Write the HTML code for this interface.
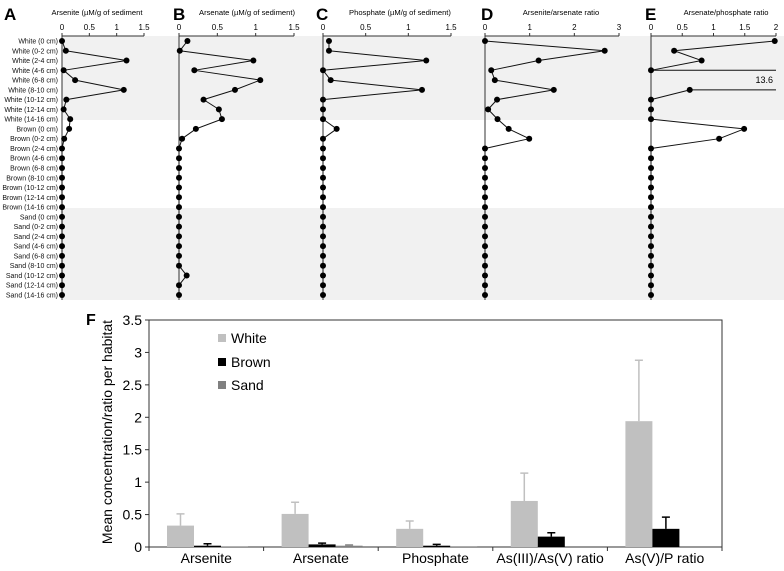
<!DOCTYPE html>
<html><head><meta charset="utf-8"><style>
html,body{margin:0;padding:0;background:#fff}
svg{display:block;font-family:"Liberation Sans",Arial,sans-serif}
</style></head><body>
<svg id="fig" width="784" height="571" viewBox="0 0 784 571" xmlns="http://www.w3.org/2000/svg">
<rect x="62" y="36" width="722" height="84" fill="#f1f1f1"/>
<rect x="62" y="208" width="722" height="92" fill="#f1f1f1"/>
<g id="profiles"></g>
<g id="bars"></g>
</svg>
<script>
const depthLabels = ["White (0 cm)","White (0-2 cm)","White (2-4 cm)","White (4-6 cm)","White (6-8 cm)","White (8-10 cm)","White (10-12 cm)","White (12-14 cm)","White (14-16 cm)","Brown (0 cm)","Brown (0-2 cm)","Brown (2-4 cm)","Brown (4-6 cm)","Brown (6-8 cm)","Brown (8-10 cm)","Brown (10-12 cm)","Brown (12-14 cm)","Brown (14-16 cm)","Sand (0 cm)","Sand (0-2 cm)","Sand (2-4 cm)","Sand (4-6 cm)","Sand (6-8 cm)","Sand (8-10 cm)","Sand (10-12 cm)","Sand (12-14 cm)","Sand (14-16 cm)"];
const arseniteVals = [0,0.07,1.18,0.03,0.24,1.13,0.08,0.03,0.15,0.13,0.04,0,0,0,0,0,0,0,0,0,0,0,0,0,0,0,0];
const arsenateVals = [0.11,0.01,0.97,0.2,1.06,0.73,0.32,0.52,0.56,0.22,0.04,0,0,0,0,0,0,0,0,0,0,0,0,0,0.1,0,0];
const phosphateVals = [0.07,0.07,1.21,0,0.09,1.16,0,0,0,0.16,0,0,0,0,0,0,0,0,0,0,0,0,0,0,0,0,0];
const ratioIIIVVals = [0,2.68,1.2,0.14,0.22,1.54,0.27,0.07,0.28,0.53,0.99,0,0,0,0,0,0,0,0,0,0,0,0,0,0,0,0];
const ratioVPVals = [1.98,0.37,0.81,0,13.6,0.62,0,0,0,1.49,1.09,0,0,0,0,0,0,0,0,0,0,0,0,0,0,0,0];
const ticksA = ["0","0.5","1","1.5"], ticksD = ["0","1","2","3"], ticksE = ["0","0.5","1","1.5","2"];

const barCategories = ["Arsenite","Arsenate","Phosphate","As(III)/As(V) ratio","As(V)/P ratio"];
const whiteMeans = [0.33,0.51,0.28,0.71,1.94];
const whiteErr = [0.18,0.18,0.12,0.43,0.94];
const brownMeans = [0.02,0.04,0.02,0.16,0.28];
const brownErr = [0.03,0.02,0.02,0.06,0.18];
const sandMeans = [0.005,0.02,0.01,0,0];
const sandErr = [0,0.01,0,0,0];
const barYTicks = ["0","0.5","1","1.5","2","2.5","3","3.5"];

const NS="http://www.w3.org/2000/svg";
function mk(parent,tag,attrs,text){const e=document.createElementNS(NS,tag);for(const k in attrs)e.setAttribute(k,attrs[k]);if(text!==undefined)e.textContent=text;parent.appendChild(e);return e;}
const P=document.getElementById('profiles');
const rowY=i=>41+i*(254/26);

depthLabels.forEach((l,i)=>{
  const t=mk(P,'text',{x:58,y:rowY(i)+2.5,'font-size':'7','text-anchor':'end',fill:'#111'},l);
  
  
});

const panels=[
 {letter:"A",title:"Arsenite  (µM/g of sediment",x0:62,x1:144,max:1.5,ticks:ticksA,vals:arseniteVals,lx:4,tx:97},
 {letter:"B",title:"Arsenate (µM/g of sediment)",x0:179,x1:294,max:1.5,ticks:ticksA,vals:arsenateVals,lx:173,tx:247},
 {letter:"C",title:"Phosphate (µM/g of sediment)",x0:323,x1:451,max:1.5,ticks:ticksA,vals:phosphateVals,lx:316,tx:400},
 {letter:"D",title:"Arsenite/arsenate ratio",x0:485,x1:619,max:3,ticks:ticksD,vals:ratioIIIVVals,lx:481,tx:561},
 {letter:"E",title:"Arsenate/phosphate ratio",x0:651,x1:776,max:2,ticks:ticksE,vals:ratioVPVals,lx:645,tx:726}
];
panels.forEach(p=>{
  const g=mk(P,'g',{});
  
  
  const L=mk(g,'text',{x:p.lx,y:20,'font-size':'17','font-weight':'bold'},p.letter);
  
  
  const T=mk(g,'text',{x:p.tx,y:15,'font-size':'7.6','text-anchor':'middle'},p.title);
  
  
  const sx=v=>p.x0+(v/p.max)*(p.x1-p.x0);
  const ax=mk(g,'line',{x1:p.x0,y1:36,x2:p.x1,y2:36,stroke:'#333','stroke-width':1});
  
  
  const ay=mk(g,'line',{x1:p.x0,y1:36,x2:p.x0,y2:300,stroke:'#333','stroke-width':1});
  
  
  p.ticks.forEach(t=>{
    const v=parseFloat(t), x=sx(v);
    mk(g,'line',{x1:x,y1:33,x2:x,y2:36,stroke:'#333'});
    const tl=mk(g,'text',{x:x,y:30,'font-size':'8','text-anchor':'middle'},t);
    
    
  });
  const pts=p.vals.map((v,i)=>({v,x:sx(Math.min(v,p.max)),y:rowY(i),over:v>p.max}));
  for(let i=0;i<pts.length-1;i++){
    const a=pts[i],b=pts[i+1];
    let seg;
    if(a.over||b.over){
      const n=a.over?b:a;
      seg=mk(g,'line',{x1:n.x,y1:n.y,x2:sx(p.max),y2:n.y,stroke:'#111','stroke-width':1});
    } else {
      seg=mk(g,'line',{x1:a.x,y1:a.y,x2:b.x,y2:b.y,stroke:'#111','stroke-width':1});
    }
    
    
  }
  pts.forEach(pt=>{
    if(pt.over){
      const t=mk(g,'text',{x:sx(p.max)-3,y:pt.y+3,'font-size':'9','text-anchor':'end'},String(pt.v));
      
      
      return;
    }
    const c=mk(g,'circle',{cx:pt.x,cy:pt.y,r:3,fill:'#000'});
    
    
  });
});

const B=document.getElementById('bars');
const bx0=149,bx1=722,by0=547,byTop=320,bmax=3.5;
const by=v=>by0-(v/bmax)*(by0-byTop);
const gw=(bx1-bx0)/barCategories.length;
const fl=mk(B,'text',{x:86,y:325,'font-size':'16','font-weight':'bold'},'F');


const frame=mk(B,'rect',{x:bx0,y:byTop,width:bx1-bx0,height:by0-byTop,fill:'none',stroke:'#333','stroke-width':1});


barYTicks.forEach(t=>{
  const y=by(parseFloat(t));
  mk(B,'line',{x1:bx0-4,y1:y,x2:bx0,y2:y,stroke:'#333'});
  const tl=mk(B,'text',{x:bx0-7,y:y+5,'font-size':'14','text-anchor':'end'},t);
  
  
});
const yt=mk(B,'text',{x:0,y:0,'font-size':'14','text-anchor':'middle',transform:'translate(112,432) rotate(-90)'},'Mean concentration/ratio per habitat');


const series=[{m:whiteMeans,e:whiteErr,c:'#c0c0c0',ec:'#c0c0c0',n:'white'},{m:brownMeans,e:brownErr,c:'#000',ec:'#000',n:'brown'},{m:sandMeans,e:sandErr,c:'#808080',ec:'#808080',n:'sand'}];
barCategories.forEach((cat,ci)=>{
  const gx=bx0+ci*gw;
  if(ci>0) mk(B,'line',{x1:gx,y1:by0,x2:gx,y2:by0+4,stroke:'#333'});
  series.forEach((s,si)=>{
    const x=gx+18+si*27, v=s.m[ci], e=s.e[ci];
    if(e>0){
      const cx=x+13.5;
      const el=mk(B,'path',{d:`M${cx},${by(v)} V${by(v+e)} M${cx-4},${by(v+e)} H${cx+4}`,stroke:s.ec,'stroke-width':1.5,fill:'none'});
      
      
    }
    const r=mk(B,'rect',{x:x,y:by(v),width:27,height:Math.max(0,by0-by(v)),fill:s.c});
    
    
  });
  const cl=mk(B,'text',{x:gx+gw/2,y:563,'font-size':'14','text-anchor':'middle'},cat);
  
  
});
mk(B,'line',{x1:bx0,y1:by0,x2:bx0,y2:by0+4,stroke:'#333'});
mk(B,'line',{x1:bx1,y1:by0,x2:bx1,y2:by0+4,stroke:'#333'});
[['White','#c0c0c0',338],['Brown','#000',362],['Sand','#808080',385]].forEach(l=>{
  const g=mk(B,'g',{});
  
  
  mk(g,'rect',{x:218,y:l[2]-4,width:8,height:8,fill:l[1]});
  mk(g,'text',{x:231,y:l[2]+5,'font-size':'14'},l[0]);
});
</script>
</body></html>
